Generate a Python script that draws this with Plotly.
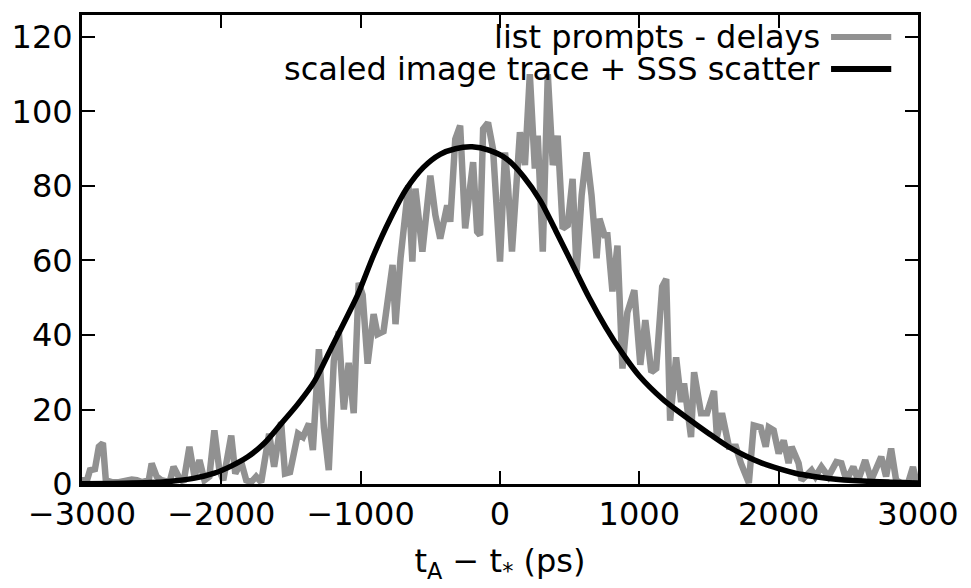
import plotly.graph_objects as go

# gray: list prompts - delays
prompt_x = [-3000, -2964, -2943, -2907, -2879, -2850, -2829, -2786, -2736, -2664, -2643, -2607,
            -2571, -2521, -2500, -2464, -2429, -2371, -2343, -2307, -2271, -2229, -2193, -2157,
            -2121, -2086, -2050, -2014, -1986, -1929, -1900, -1857, -1821, -1786, -1750, -1714,
            -1657, -1621, -1571, -1543, -1507, -1450, -1414, -1371, -1343, -1300, -1264, -1229,
            -1193, -1157, -1121, -1086, -1050, -1014, -986, -950, -907, -879, -836, -771, -750,
            -714, -657, -629, -607, -557, -500, -464, -429, -379, -357, -321, -286, -250, -214,
            -193, -164, -143, -121, -86, -50, -21, 0, 36, 57, 86, 121, 143, 179, 214, 250, 271,
            307, 343, 379, 414, 450, 486, 521, 550, 586, 621, 657, 693, 714, 750, 771, 807, 843,
            879, 914, 964, 1007, 1043, 1086, 1121, 1164, 1193, 1221, 1264, 1300, 1321, 1371,
            1393, 1443, 1486, 1536, 1557, 1593, 1643, 1693, 1729, 1786, 1821, 1871, 1907, 1929,
            1964, 2000, 2036, 2071, 2093, 2143, 2164, 2236, 2264, 2307, 2357, 2414, 2450, 2486,
            2536, 2571, 2621, 2664, 2736, 2771, 2807, 2843, 2879, 2929, 2964, 2986, 3000]
prompt_y = [1, 1, 3.7, 4, 10, 11, 1, 0.5, 0.5, 1, 1.2, 1,
            0.5, 1, 5.5, 2, 1, 0.5, 4.6, 2, 0.5, 10, 2, 6.4,
            1, 2, 14.4, 3.7, 1, 13, 2.8, 5.9, 1, 0.5, 2, 0.5,
            13.5, 4.6, 16.6, 2.8, 3.2, 13.5, 12.6, 16.2, 9.1, 36.2, 15.2, 3.7,
            33, 41, 20, 32.5, 19, 54, 50.8, 32.3, 45.6, 40.2, 41, 58.8, 42.9,
            60.6, 80.2, 59.7, 79.3, 62.4, 82.8, 72.2, 65.9, 74.8, 70.4, 92.6, 96.2, 68.6, 81.9,
            86.4, 67.7, 66.8, 95.3, 97, 89.9, 71.2, 59.7, 89, 80.2, 62.4, 86.4, 94.4, 85.6, 110, 84.7, 93.5,
            62.4, 110, 85.6, 93.5, 68.6, 69.5, 81.9, 57, 77.5, 89, 77.5, 60.6, 71.2, 66.8, 66.8, 51.7, 64,
            31, 46, 52, 32, 44, 30, 31, 53, 55, 17, 34, 22, 27, 12.6,
            30, 19, 19, 25, 12.6, 19, 10, 10, 5.6, 0.3, 15.7, 15.2, 10, 15.2,
            14.4, 8.2, 11.7, 5.6, 10, 5.6, 1, 3.7, 2, 4.6, 2, 5.9, 5.6, 1,
            4.6, 1, 6.4, 1, 7.3, 2, 9.5, 1, 0.3, 0.3, 4.6, 1, 0.5]

# black: scaled image trace + SSS scatter
model_x = [-3000, -2700, -2400, -2200, -2050, -1930, -1810, -1690, -1570, -1450, -1330, -1210,
           -1090, -1020, -905, -790, -670, -550, -430, -320, -200, -80, 50, 170, 290, 400,
           520, 640, 760, 880, 1000, 1170, 1290, 1400, 1520, 1640, 1760, 1880, 2000, 2120,
           2240, 2360, 2600, 2800, 3000]
model_y = [0.1, 0.2, 0.6, 1.5, 2.9, 4.8, 7.3, 11, 16.2, 21.5, 27.7, 36.6,
           45.5, 50.9, 61.6, 71, 79.3, 85, 88.5, 90.0, 90.5, 89.6, 87.2, 82.5, 76, 68,
           59, 50, 42, 35, 29, 22.7, 19.2, 16.2, 13, 10, 7.6, 5.6, 4.1, 2.9,
           2.1, 1.5, 0.8, 0.5, 0.3]

legend_labels = ["list prompts - delays", "scaled image trace + SSS scatter"]
gray = "rgb(145,145,145)"

fig = go.Figure()
fig.add_trace(go.Scatter(x=prompt_x, y=prompt_y, mode="lines",
                         line=dict(color=gray, width=6.5), showlegend=False))
fig.add_trace(go.Scatter(x=model_x, y=model_y, mode="lines", line_shape="spline",
                         line=dict(color="black", width=5.5, smoothing=0.8), showlegend=False))

font = "DejaVu Sans"
for i, (lab, col) in enumerate(zip(legend_labels, [gray, "black"])):
    yy = 0.953 - i * 0.068
    fig.add_annotation(x=0.885, y=yy, xref="paper", yref="paper", text=lab,
                       showarrow=False, xanchor="right", yanchor="middle",
                       font=dict(family=font, size=32, color="black"))
    fig.add_shape(type="line", xref="paper", yref="paper", x0=0.896, x1=0.968,
                  y0=yy, y1=yy, line=dict(color=col, width=6))

axis_common = dict(showline=True, linecolor="black", linewidth=3, mirror="allticks",
                   ticks="inside", ticklen=13, tickwidth=1.5, tickcolor="black",
                   showgrid=False, zeroline=False,
                   tickfont=dict(family=font, size=32, color="black"))
fig.update_xaxes(range=[-3000, 3000], tickvals=[-3000, -2000, -1000, 0, 1000, 2000, 3000],
                 title=dict(text="t<sub>A</sub> − t<sub>*</sub> (ps)",
                            font=dict(family=font, size=32, color="black"), standoff=18),
                 **axis_common)
fig.update_yaxes(range=[0, 125.9], tickvals=[0, 20, 40, 60, 80, 100, 120], **axis_common)

fig.update_layout(width=971, height=588, margin=dict(l=80, r=51, t=12, b=104),
                  plot_bgcolor="white", paper_bgcolor="white")
fig.write_html("out.html")
